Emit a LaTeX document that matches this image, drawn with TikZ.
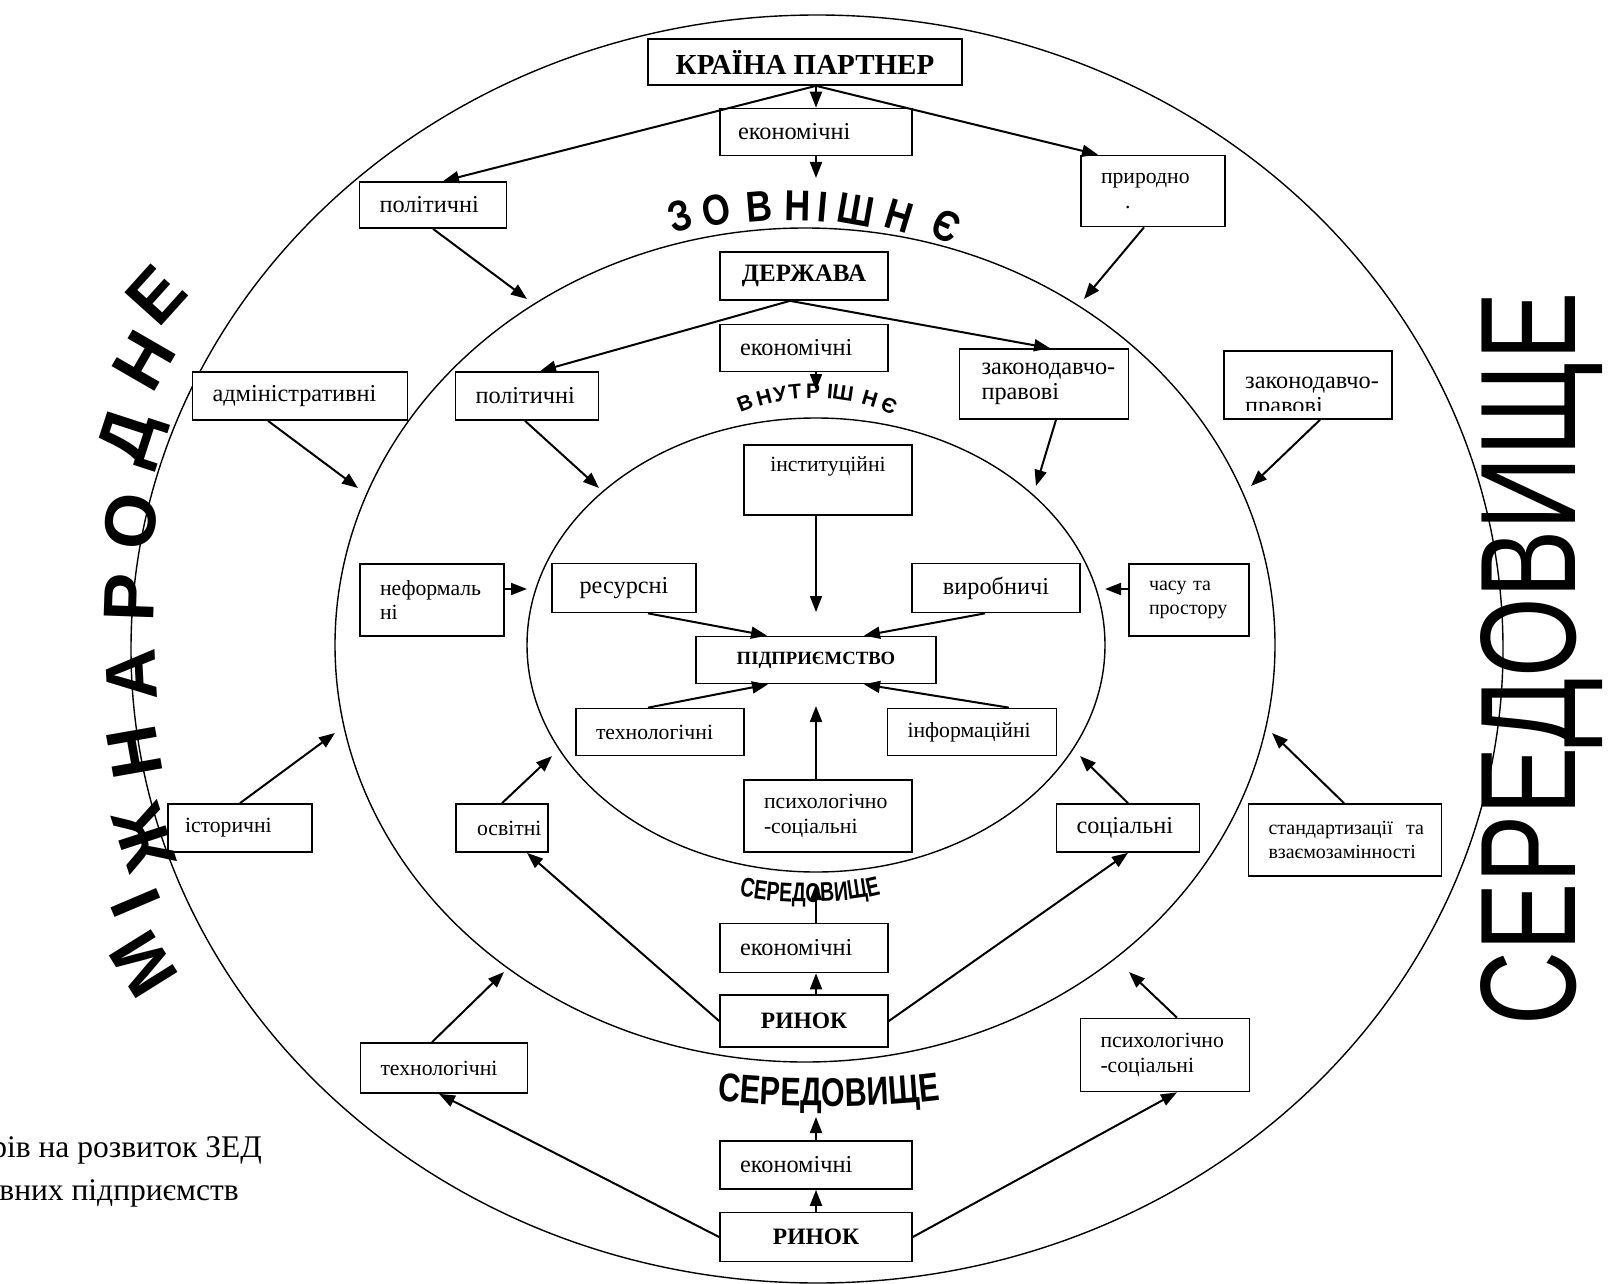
\documentclass[tikz,border=0pt]{standalone}
\usepackage{fontspec}
\usepackage{graphicx}
\setmainfont{Liberation Serif}
\newfontfamily\arialf{Liberation Sans}
\newfontfamily\condA[FakeStretch=0.72]{Liberation Sans}
\newfontfamily\condB[FakeStretch=0.76]{Liberation Sans}
\usetikzlibrary{arrows.meta,decorations.text}
\newcommand\fsz[2]{\fontsize{#1}{#2}\selectfont}
\newcommand\midword{\condA\bfseries\fsz{27}{27}}
\newcommand\lowword{\condB\bfseries\fsz{40}{40}}
\begin{document}
\hyphenpenalty=10000 \exhyphenpenalty=10000
\begin{tikzpicture}[x=1pt,y=-1pt,
  box/.style 2 args={draw, line width=1.7pt, fill=white, inner sep=0pt,
    minimum width=#1, minimum height=#2},
  lt/.style={align=left, text width=#1},
  fa/.style={font=\fsz{24.3}{25}},
  fb/.style={font=\fsz{21.7}{24.5}},
  fc/.style={font=\fsz{20}{24}},
  ring/.style={line width=1.4pt},
  arr/.style={line width=2pt, -{Triangle[length=16pt,width=12pt]}},
  zov/.style={font=\arialf\bfseries\fsz{36}{36}, inner sep=0pt},
  vnu/.style={font=\arialf\bfseries\fsz{21}{21}, inner sep=0pt},
  mizh/.style={font=\arialf\bfseries\fsz{72}{72}, inner sep=0pt}]

\fill[white] (0,0) rectangle (1609,1284);
\useasboundingbox (0,0) rectangle (1609,1284);

% three nested environments
\draw[ring] (817,649) ellipse [x radius=686, y radius=634];
\draw[ring] (805,645) ellipse [x radius=470, y radius=417];
\draw[ring] (816,645) ellipse [x radius=289, y radius=227];

% outer ring
\node[box={314pt}{46pt}, font=\fsz{29}{30}\bfseries] (kp) at (805,62) {КРАЇНА ПАРТНЕР};
\node[box={192pt}{47pt}, fa, lt=156pt] (ek1) at (816,132) {економічні};
\node[box={147pt}{46pt}, fa, lt=107pt] (pol1) at (433,205) {політичні};
\node[box={144pt}{71pt}, fb, lt=104pt] (pryr) at (1153,191) {природно\\\hspace*{24pt}.};
\node[box={215pt}{48pt}, fa, lt=175pt] (adm) at (300,396) {адміністративні};
\node[box={168pt}{68pt}] (zak2) at (1308,385) {};
\begin{scope}
  \clip (zak2.north west) rectangle (1392,410);
  \node[fa, lt=130pt, anchor=north west, inner sep=0pt] (zak2t) at (1245,377) {законодавчо-\\правові};
\end{scope}
\node[box={144pt}{48pt}, fb, lt=110pt] (ist) at (240,828) {історичні};
\node[box={193pt}{72pt}, fc, lt=153pt] (stand) at (1345,840) {стандартизації~ та\\взаємозамінності};
\node[box={167pt}{50pt}, fb, lt=127pt] (tekh2) at (444,1068) {технологічні};
\node[box={169pt}{73pt}, fb, lt=129pt] (psykh2) at (1165,1055) {психологічно\\-соціальні};
\node[box={192pt}{48pt}, fa, lt=152pt] (ek4) at (816,1165) {економічні};
\node[box={192pt}{49pt}, font=\fsz{23.5}{25}\bfseries] (rynok2) at (816,1237) {РИНОК};

% middle ring
\node[box={168pt}{48pt}, font=\fsz{25}{26}\bfseries] (derzh) at (804,276) {ДЕРЖАВА};
\node[box={168pt}{47pt}, fa, lt=128pt] (ek2) at (804,348) {економічні};
\node[box={169pt}{70pt}, fa, lt=125pt] (zak1) at (1044,384) {законодавчо-\\правові};
\node[box={143pt}{48pt}, fa, lt=103pt] (pol2) at (527,396) {політичні};
\node[box={144pt}{72pt}, fb, lt=104pt] (neform) at (432,600) {неформаль\\ні};
\node[box={120pt}{72pt}, fc, lt=80pt] (chasu) at (1189,600) {часу та\\простору};
\node[box={92pt}{48pt}, fb, lt=50pt] (osv) at (502,828) {освітні};
\node[box={143pt}{48pt}, fa, lt=103pt] (soc) at (1128,828) {соціальні};
\node[box={168pt}{49pt}, fa, lt=128pt] (ek3) at (804,948) {економічні};
\node[box={168pt}{52pt}, font=\fsz{23.5}{25}\bfseries] (rynok1) at (804,1021) {РИНОК};

% inner ring
\node[box={168pt}{70pt}, fb, align=center] (inst) at (828,480) {інституційні\\\strut};
\node[box={144pt}{49pt}, fa] (res) at (624,588) {ресурсні};
\node[box={168pt}{49pt}, fa] (vyr) at (996,588) {виробничі};
\node[box={240pt}{47pt}, font=\fsz{18.7}{20}\bfseries] (pidpr) at (816,660) {ПІДПРИЄМСТВО};
\node[box={168pt}{47pt}, fb, lt=128pt] (tekh1) at (660,732) {технологічні};
\node[box={169pt}{47pt}, fb, lt=129pt] (inform) at (972,732) {інформаційні};
\node[box={168pt}{72pt}, fb, lt=128pt] (psykh1) at (828,816) {психологічно\\-соціальні};

% arched captions of the rings
\foreach \ch/\x [count=\i] in {З/680,О/716,В/759,Н/798,І/823,Ш/856,Н/899,Є/946}{
  \pgfmathsetmacro\ang{asin((\x-790)/600)}
  \pgfmathsetmacro\rot{-1.6*\ang}
  \node[zov, rotate=\rot] (zv\i) at ({790+600*sin(\ang)},{806-600*cos(\ang)}) {\scalebox{1}[1.2]{\ch}};
}
\foreach \ch/\x [count=\i] in {В/745,Н/764,У/780,Т/795,Р/813,І/830,Ш/843,Н/870,Є/889}{
  \pgfmathsetmacro\ang{asin((\x-814)/196)}
  \pgfmathsetmacro\rot{-\ang}
  \node[vnu, rotate=\rot] (vn\i) at ({814+196*sin(\ang)},{587-196*cos(\ang)}) {\ch};
}
\path[decorate, decoration={text along path, text align=center,
  text={|\midword|СЕРЕДОВИЩЕ}}] (733,894) .. controls (770,905) and (850,905) .. (887,892);
\path[decorate, decoration={text along path, text align=center,
  text={|\lowword|СЕРЕДОВИЩЕ}}] (700,1098) .. controls (760,1109) and (898,1109) .. (958,1097);

% large side lettering
\foreach \ch/\x/\y/\r [count=\i] in {Е/156/295/48, Н/144/361/60, Д/133/439/72,
    О/131/521/82, Р/130/598/88, А/131/675/93, Н/135/752/100, Ж/144/838/108,
    І/136/903/113, М/144/964/122}{
  \node[mizh, rotate=\r] (mz\i) at (\x,\y) {\ch};
}
\node[font=\arialf\fsz{136}{136}, rotate=90, anchor=base, inner sep=0pt] (seredR)
  at (1575,659) {\scalebox{0.752}[1]{СЕРЕДОВИЩЕ}};

% caption fragment
\node[font=\fsz{31.5}{34}, anchor=base east, inner sep=0pt] (cap1) at (262,1157) {рів на розвиток ЗЕД};
\node[font=\fsz{31.5}{34}, anchor=base east, inner sep=0pt] (cap2) at (239,1200) {вних підприємств};

% free arrow ends
\coordinate (t1) at (816,178);
\coordinate (t2) at (527,299);
\coordinate (t3) at (1084,299);
\coordinate (t4) at (816,390);
\coordinate (t5) at (599,488);
\coordinate (t6) at (1036,486);
\coordinate (t7) at (1251,486);
\coordinate (t8) at (358,488);
\coordinate (t9) at (816,612);
\coordinate (t10) at (527,589);
\coordinate (t11) at (1105,589);
\coordinate (t12) at (816,706);
\coordinate (t13) at (335,733);
\coordinate (t14) at (1272,733);
\coordinate (t15) at (552,756);
\coordinate (t16) at (1080,756);
\coordinate (t17) at (816,884);
\coordinate (t18) at (504,972);
\coordinate (t19) at (1129,972);
\coordinate (t20) at (816,1117);

% connectors
\draw[arr] ([xshift=11pt]kp.south) -- (ek1.north);
\draw[arr] ([xshift=11pt]kp.south) -- ([xshift=10pt]pol1.north);
\draw[arr] ([xshift=11pt]kp.south) -- ([xshift=-55pt]pryr.north);
\draw[arr] (ek1.south) -- (t1);
\draw[arr] (pol1.south) -- (t2);
\draw[arr] ([xshift=-9pt]pryr.south) -- (t3);
\draw[arr] ([xshift=-14pt]derzh.south) -- ([xshift=13pt]pol2.north);
\draw[arr] ([xshift=-14pt]derzh.south) -- ([xshift=6pt]zak1.north);
\draw[arr] ([xshift=12pt]ek2.south) -- (t4);
\draw[arr] ([xshift=-2pt]pol2.south) -- (t5);
\draw[arr] ([xshift=12pt]zak1.south) -- (t6);
\draw[arr] ([xshift=12pt]zak2.south) -- (t7);
\draw[arr] ([xshift=-32pt]adm.south) -- (t8);
\draw[arr] ([xshift=-12pt]inst.south) -- (t9);
\draw[arr] ([yshift=11pt]neform.east) -- (t10);
\draw[arr] ([yshift=11pt]chasu.west) -- (t11);
\draw[arr] ([xshift=24pt]res.south) -- ([xshift=-49pt]pidpr.north);
\draw[arr] ([xshift=-11pt]vyr.south) -- ([xshift=48pt]pidpr.north);
\draw[arr] ([xshift=-12pt]tekh1.north) -- ([xshift=-48pt]pidpr.south);
\draw[arr] ([xshift=37pt]inform.north) -- ([xshift=48pt]pidpr.south);
\draw[arr] ([xshift=-12pt]psykh1.north) -- (t12);
\draw[arr] (ist.north) -- (t13);
\draw[arr] ([xshift=-1pt]stand.north) -- (t14);
\draw[arr] (osv.north) -- (t15);
\draw[arr] (soc.north) -- (t16);
\draw[arr] ([xshift=12pt]rynok1.north) -- ([xshift=12pt]ek3.south);
\draw[arr] ([xshift=12pt]ek3.north) -- (t17);
\draw[arr] (rynok1.west) -- ([xshift=25pt]osv.south);
\draw[arr] (rynok1.east) -- (soc.south);
\draw[arr] ([xshift=-12pt]tekh2.north) -- (t18);
\draw[arr] ([xshift=12pt]psykh2.north) -- (t19);
\draw[arr] (rynok2.west) -- ([xshift=-5pt]tekh2.south);
\draw[arr] (rynok2.east) -- ([xshift=12pt]psykh2.south);
\draw[arr] (rynok2.north) -- (ek4.south);
\draw[arr] (ek4.north) -- (t20);
\end{tikzpicture}
\end{document}
